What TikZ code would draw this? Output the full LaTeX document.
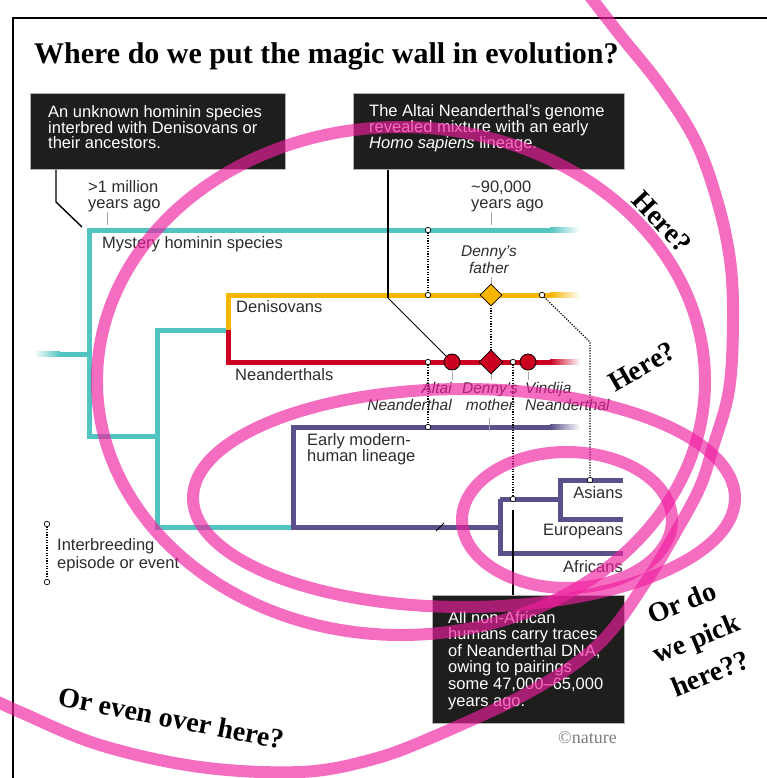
\documentclass[tikz,border=0pt]{standalone}
\usepackage{fontspec}
\setmainfont{Liberation Serif}
\newfontfamily\sansf{Liberation Sans}
\usetikzlibrary{shapes.geometric}
\definecolor{teal1}{RGB}{82,196,193}
\definecolor{yel}{RGB}{247,181,0}
\definecolor{redl}{RGB}{204,0,32}
\definecolor{purp}{RGB}{92,80,138}
\definecolor{boxfill}{RGB}{30,30,28}
\definecolor{txt}{RGB}{45,45,45}
\definecolor{pinkc}{RGB}{240,30,160}
\definecolor{natgray}{RGB}{125,125,125}
\tikzset{
  blackbox/.style={fill=boxfill, draw=gray!60, line width=0.6pt, inner sep=0pt},
  boxtext/.style={text=white, font=\sansf\fontsize{16.5}{15.2}\selectfont, align=left, inner sep=0pt, anchor=base west},
  lbl/.style={text=txt, font=\sansf\fontsize{16.5}{15.5}\selectfont, align=left, inner sep=0pt},
  ilbl/.style={text=txt, font=\sansf\itshape\fontsize{15.5}{16.8}\selectfont, inner sep=0pt},
  tree/.style={line width=5pt},
  conn/.style={line width=1.4pt, draw=black},
  tickl/.style={line width=0.8pt, draw=gray!70},
  dots/.style={line width=1.2pt, dash pattern=on 1.2pt off 1.4pt},
  ev/.style={circle, draw=black, fill=white, line width=0.7pt, inner sep=0pt, minimum size=5.5pt},
  pinkline/.style={line width=12pt, draw=pinkc, opacity=0.65},
  hand/.style={font=\bfseries\fontsize{28}{38}\selectfont, inner sep=0pt, align=center},
}
\begin{document}
\begin{tikzpicture}[x=1pt,y=-1pt]
\useasboundingbox (0,0) rectangle (766,778);
% frame
\draw[line width=2pt] (13,800) -- (13,18) -- (790,18);
% title
\node[font=\bfseries\fontsize{30}{30}\selectfont, anchor=base west, inner sep=0pt] (title) at (34,64) {Where do we put the magic wall in evolution?};

% black boxes (multi-line texts are anchored at the baseline of their last line)
\node[blackbox, anchor=north west, minimum width=255pt, minimum height=76pt] (box1) at (30,93) {};
\node[boxtext] (t1) at (48,149) {An unknown hominin species\\interbred with Denisovans or\\their ancestors.};
\node[blackbox, anchor=north west, minimum width=271pt, minimum height=76pt] (box2) at (353,93) {};
\node[boxtext] (t2) at (369,149) {The Altai Neanderthal’s genome\\revealed mixture with an early\\\textit{Homo sapiens} lineage.};
\node[blackbox, anchor=north west, minimum width=192pt, minimum height=128pt] (box3) at (432,595) {};
\node[boxtext, font=\sansf\fontsize{16.5}{16.6}\selectfont] (t3) at (448,706) {All non-African\\humans carry traces\\of Neanderthal DNA,\\owing to pairings\\some 47,000–65,000\\years ago.};

% coordinates of tree
\coordinate (a1) at (89,354);
\coordinate (a1t) at (89,230);
\coordinate (a1b) at (89,436);
\coordinate (a2) at (157,436);
\coordinate (a2t) at (157,330);
\coordinate (a2b) at (157,527);
\coordinate (dn) at (228,330);
\coordinate (dnt) at (228,295);
\coordinate (dnb) at (228,362);
\coordinate (hm) at (293,527);
\coordinate (hmt) at (293,427);
\coordinate (b1) at (500,527);
\coordinate (b1t) at (500,499);
\coordinate (b1b) at (500,553);
\coordinate (b2t) at (560,480);
\coordinate (b2b) at (560,519);

% teal
\shade[left color=white, right color=teal1] (34,351.5) rectangle (60,356.5);
\draw[tree, teal1] (60,354) -- (a1);
\draw[tree, teal1] (550,230) -- (a1t) -- (a1b) -- (a2);
\draw[tree, teal1] (dn) -- (a2t) -- (a2b) -- (hm);
\shade[left color=teal1, right color=white] (550,227.5) rectangle (580,232.5);
% denisovans / neanderthals
\draw[tree, yel] (550,295) -- (dnt) -- (dn);
\shade[left color=yel, right color=white] (550,292.5) rectangle (580,297.5);
\draw[tree, redl] (dn) -- (dnb) -- (550,362);
\shade[left color=redl, right color=white] (550,359.5) rectangle (580,364.5);
% modern humans
\draw[tree, purp] (550,427) -- (hmt) -- (hm) -- (b1);
\shade[left color=purp, right color=white] (550,424.5) rectangle (580,429.5);
\draw[tree, purp] (b1t) -- (b1b) -- (623,553);
\draw[tree, purp] (b1t) -- (560,499);
\draw[tree, purp] (623,480) -- (b2t) -- (b2b) -- (623,519);

% labels
\node[lbl, anchor=base west] (mya) at (88,208) {>1 million\\years ago};
\node[lbl, anchor=base west] (kya) at (471,208) {\textasciitilde90,000\\years ago};
\node[lbl, anchor=base west] (mys) at (102,248) {Mystery hominin species};
\node[lbl, anchor=base west] (den) at (236,312) {Denisovans};
\node[lbl, anchor=base west] (nea) at (235,380) {Neanderthals};
\node[lbl, anchor=base west] (emh) at (307,461) {Early modern-\\human lineage};
\node[lbl, anchor=base east] (asi) at (623,498) {Asians};
\node[lbl, anchor=base east] (eur) at (623,535) {Europeans};
\node[lbl, anchor=base east] (afr) at (623,572) {Africans};
\node[lbl, anchor=base west, font=\sansf\fontsize{16.5}{18}\selectfont] (leg) at (57,568) {Interbreeding\\episode or event};
\node[ilbl, align=center, anchor=base] (dfa) at (489,273) {Denny’s\\father};
\node[ilbl, align=right, anchor=base east] (alt) at (452,410) {Altai\\Neanderthal};
\node[ilbl, align=center, anchor=base] (dmo) at (490,410) {Denny’s\\mother};
\node[ilbl, align=left, anchor=base west] (vin) at (525,410) {Vindija\\Neanderthal};
\node[font=\fontsize{18}{18}\selectfont, text=natgray, anchor=base west, inner sep=0pt] (nat) at (558,743) {©nature};

% ticks
\draw[tickl] (107,212) -- (107,225);
\draw[tickl] (491,212) -- (491,225);
\draw[tickl] (491,277) -- (491,284);
\draw[tickl] (452,372) -- (452,380);
\draw[tickl] (491,374) -- (491,380);
\draw[tickl] (528,372) -- (528,380);
\draw[tickl] (489,418) -- (489,431);

% connectors
\coordinate (c1a) at (56,202);
\coordinate (c1b) at (82,227);
\draw[conn] (box1.south -| c1a) -- (c1a) -- (c1b);
\coordinate (c2a) at (388,298);
\node[circle, draw=black, fill=redl, line width=0.8pt, inner sep=0pt, minimum size=16pt] (alt1) at (452,362) {};
\node[circle, draw=black, fill=redl, line width=0.8pt, inner sep=0pt, minimum size=16pt] (vin1) at (528,362) {};
\draw[conn] (box2.south -| c2a) -- (c2a);
\draw[line width=0.9pt] (c2a) -- (alt1);
\coordinate (c3a) at (513,510);
\draw[conn] (box3.north -| c3a) -- (c3a);
\draw[line width=1pt] (436,531) -- (444,523);

% interbreeding events
\draw[dots] (428,230) -- (428,295);
\draw[dots] (428,362) -- (428,427);
\draw[dots] (491,300) -- (491,356);
\draw[dots] (542,295) -- (590,342) -- (590,480);
\draw[dots] (513,362) -- (513,499);
\draw[dots] (47,524) -- (47,582);
\foreach \p in {(428,230),(428,295),(428,362),(428,427),(491,302),(491,354),(542,295),(590,480),(513,362),(513,499),(47,524),(47,582)}
  \node[ev] at \p {};
\node[diamond, draw=black, fill=yel, line width=0.8pt, inner sep=0pt, minimum width=22pt, minimum height=22pt] (dfd) at (491,295) {};
\node[diamond, draw=black, fill=redl, line width=0.8pt, inner sep=0pt, minimum width=24pt, minimum height=24pt] (dmd) at (491,362) {};

% pink overlay
\draw[pinkline] (401,381) ellipse [x radius=304, y radius=254];
\draw[pinkline] (464,498) ellipse [x radius=271, y radius=109];
\draw[pinkline] (567,520) ellipse [x radius=105, y radius=68];
\draw[pinkline] plot[smooth, tension=0.6] coordinates {(585,-10) (620,35) (660,85) (695,140) (717,200) (730,260) (733,320) (729,390) (713,447) (700,487) (677,530) (647,580) (600,643) (533,690) (433,737) (370,760) (300,772) (200,767) (100,745) (20,712) (-10,698)};

% handwritten questions
\node[hand, rotate=-47] (q1) at (662,222) {Here?};
\node[hand, rotate=30] (q2) at (642,367) {Here?};
\node[hand, rotate=22] (q3) at (696,638) {Or do\\we pick\\here??};
\node[hand, rotate=-11] (q4) at (171,718) {Or even over here?};
\end{tikzpicture}
\end{document}
